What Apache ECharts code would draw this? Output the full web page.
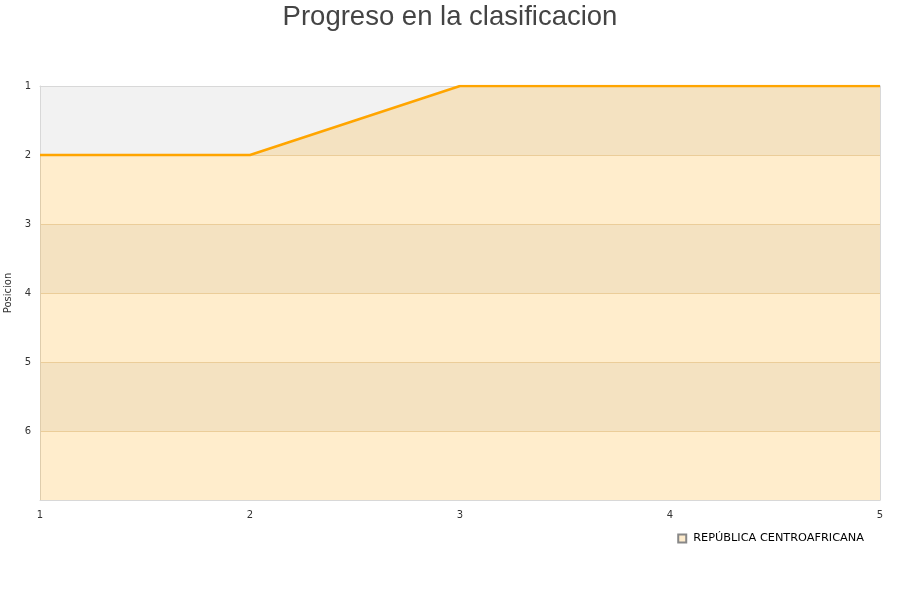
<!DOCTYPE html>
<html><head><meta charset="utf-8">
<script src="https://cdn.jsdelivr.net/npm/echarts@6/dist/echarts.min.js"></script>
<style>html,body{margin:0;padding:0;background:#fff}#c{width:900px;height:600px}</style>
</head><body><div id="c"></div>
<script>
var jornadas = ['1','2','3','4','5'];
var posiciones = [2, 2, 1, 1, 1];
var equipo = 'REPÚBLICA CENTROAFRICANA';
var yTicks = [1,2,3,4,5,6];

var borderLine = {show: true, lineStyle: {color: '#d8d8d8', width: 1}};
var chart = echarts.init(document.getElementById('c'));
chart.setOption({
  animation: false,
  title: {text: 'Progreso en la clasificacion', left: 'center', top: -2,
    textStyle: {fontFamily: 'Liberation Sans, Arial, sans-serif', fontSize: 27.5, fontWeight: 'normal', color: '#444'}},
  grid: {left: 40, right: 20, top: 86, bottom: 100, containLabel: false, outerBoundsMode: 'none'},
  legend: {data: [equipo], right: 34, top: 531, itemWidth: 8, itemHeight: 8, icon: 'rect',
    padding: [2, 2, 2, 2],
    textStyle: {fontFamily: 'DejaVu Sans, sans-serif', fontSize: 11.3, color: '#000', padding: [0, 0, 0, 2]}},
  xAxis: [{type: 'category', data: jornadas, boundaryGap: false,
    axisLine: borderLine, axisTick: {show: false},
    axisLabel: {color: '#333', fontSize: 10, margin: 10, fontFamily: 'DejaVu Sans, sans-serif'},
    splitLine: {show: false}},
    {type: 'category', data: jornadas, boundaryGap: false, position: 'top',
    axisLine: borderLine, axisTick: {show: false}, axisLabel: {show: false}, splitLine: {show: false}}],
  yAxis: [{type: 'value', inverse: true, min: 1, max: 7, interval: 1,
    name: 'Posicion', nameLocation: 'middle', nameGap: 19,
    nameTextStyle: {fontSize: 10, color: '#333', fontFamily: 'DejaVu Sans, sans-serif'},
    axisLine: borderLine, axisTick: {show: false},
    axisLabel: {color: '#333', fontSize: 10, margin: 9, fontFamily: 'DejaVu Sans, sans-serif',
      formatter: function(v){ return yTicks.indexOf(v) >= 0 ? String(v) : ''; }},
    splitLine: {show: true, lineStyle: {color: '#e6d8c0', width: 1}},
    splitArea: {show: true, areaStyle: {color: ['#f2f2f2', '#ffffff']}}},
    {type: 'value', inverse: true, min: 1, max: 7, interval: 1, position: 'right',
    axisLine: borderLine, axisTick: {show: false}, axisLabel: {show: false}, splitLine: {show: false}}],
  series: [{
    name: equipo, type: 'line', data: posiciones, symbol: 'none', z: 3,
    lineStyle: {color: '#ffa500', width: 2.5},
    itemStyle: {color: '#fdebcc', borderColor: '#888', borderWidth: 1},
    areaStyle: {color: '#ffa500', opacity: 0.2, origin: 'end'}
  }]
});
</script></body></html>
